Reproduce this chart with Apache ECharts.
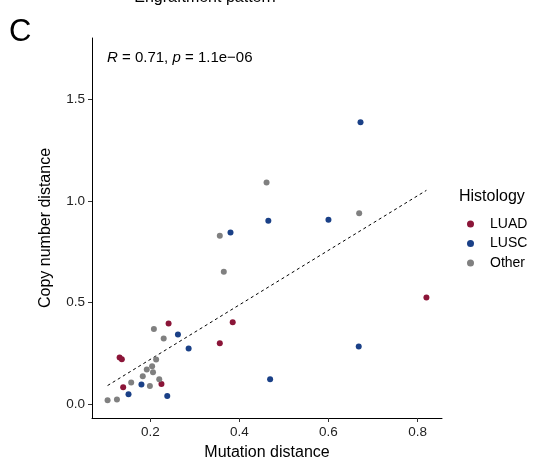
<!DOCTYPE html>
<html>
<head>
<meta charset="utf-8">
<script src="https://cdn.jsdelivr.net/npm/echarts@6/dist/echarts.min.js"></script>
<style>
  html, body { margin: 0; padding: 0; background: #fff; }
  #chart { width: 539px; height: 466px; }
</style>
</head>
<body>
<div id="chart"></div>
<script>
// Mutation distance vs copy number distance, grouped by histology
const luadX = [0.131, 0.136, 0.139, 0.225, 0.241, 0.356, 0.385, 0.820];
const luadY = [0.231, 0.223, 0.085, 0.101, 0.398, 0.301, 0.404, 0.526];

const luscX = [0.151, 0.180, 0.238, 0.262, 0.286, 0.380, 0.465, 0.469, 0.600, 0.668, 0.672];
const luscY = [0.051, 0.098, 0.042, 0.344, 0.275, 0.845, 0.902, 0.124, 0.907, 0.285, 1.386];

const otherX = [0.104, 0.125, 0.157, 0.183, 0.192, 0.199, 0.204, 0.206, 0.208, 0.213, 0.220, 0.230, 0.356, 0.365, 0.461, 0.669];
const otherY = [0.021, 0.025, 0.108, 0.139, 0.172, 0.091, 0.188, 0.159, 0.371, 0.221, 0.124, 0.324, 0.829, 0.652, 1.091, 0.939];

const xTicks = [0.2, 0.4, 0.6, 0.8];
const yTicks = [0.0, 0.5, 1.0, 1.5];
const groupNames = ['LUAD', 'LUSC', 'Other'];
const groupColors = ['#8B1538', '#1A4087', '#808080'];

const zip = (xs, ys) => xs.map((x, i) => [x, ys[i]]);
const groups = [zip(luadX, luadY), zip(luscX, luscY), zip(otherX, otherY)];

// Ordinary least squares fit over all points, spanning the observed x range
const allPts = groups.flat();
const n = allPts.length;
const mx = allPts.reduce((s, p) => s + p[0], 0) / n;
const my = allPts.reduce((s, p) => s + p[1], 0) / n;
let sxy = 0, sxx = 0;
allPts.forEach(p => { sxy += (p[0] - mx) * (p[1] - my); sxx += (p[0] - mx) ** 2; });
const slope = sxy / sxx;
const intercept = my - slope * mx;
const xMin = Math.min(...allPts.map(p => p[0]));
const xMax = Math.max(...allPts.map(p => p[0]));
const fitLine = [[xMin, intercept + slope * xMin], [xMax, intercept + slope * xMax]];

const FONT = 'Liberation Sans, Arial, sans-serif';

const chart = echarts.init(document.getElementById('chart'), null, { renderer: 'canvas' });

chart.setOption({
  animation: false,
  backgroundColor: '#fff',
  textStyle: { fontFamily: FONT },
  grid: { left: 92, right: 97, top: 38, bottom: 48, containLabel: false },
  xAxis: {
    type: 'value',
    min: 0.069, max: 0.855,
    name: 'Mutation distance',
    nameLocation: 'middle',
    nameGap: 27,
    nameTextStyle: { color: '#000', fontSize: 16, fontFamily: FONT },
    axisLine: { show: true, onZero: false, lineStyle: { color: '#000', width: 1 } },
    axisTick: { show: true, length: 4, lineStyle: { color: '#333' }, customValues: xTicks },
    axisLabel: { color: '#222', fontSize: 13.5, margin: 7, fontFamily: FONT,
      customValues: xTicks, formatter: v => v.toFixed(1) },
    splitLine: { show: false }
  },
  yAxis: {
    type: 'value',
    min: -0.066, max: 1.80,
    name: 'Copy number distance',
    nameLocation: 'middle',
    nameGap: 38,
    nameRotate: 90,
    nameTextStyle: { color: '#000', fontSize: 16, fontFamily: FONT },
    axisLine: { show: true, onZero: false, lineStyle: { color: '#000', width: 1 } },
    axisTick: { show: true, length: 4, lineStyle: { color: '#333' }, customValues: yTicks },
    axisLabel: { color: '#222', fontSize: 13.5, margin: 7, fontFamily: FONT,
      customValues: yTicks, formatter: v => v.toFixed(1) },
    splitLine: { show: false }
  },
  legend: {
    data: groupNames,
    orient: 'vertical',
    left: 462,
    top: 212,
    itemWidth: 7,
    itemHeight: 7,
    itemGap: 5.5,
    icon: 'circle',
    textStyle: { color: '#000', fontSize: 14, fontFamily: FONT, padding: [0, 0, 0, 11] },
    selectedMode: false
  },
  graphic: [
    { type: 'text', left: 459, top: 189,
      style: { text: 'Histology', fontSize: 16, fill: '#000', fontFamily: FONT } },
    { type: 'text', left: 9, top: 17,
      style: { text: 'C', fontSize: 31, fill: '#000', fontFamily: FONT } },
    { type: 'text', x: 205, y: -2,
      style: { text: 'Engraftment pattern', fontSize: 16, fill: '#000', fontFamily: FONT,
        align: 'center', verticalAlign: 'middle' } },
    { type: 'text', left: 107, top: 50,
      style: {
        text: '{i|R} = 0.71, {i|p} = 1.1e\u221206',
        fontSize: 15, fill: '#000', fontFamily: FONT,
        rich: { i: { fontStyle: 'italic', fontSize: 15, fontFamily: FONT } }
      } }
  ],
  series: [
    ...groups.map((pts, i) => ({
      name: groupNames[i],
      type: 'scatter',
      data: pts,
      symbol: 'circle',
      symbolSize: 6,
      itemStyle: { color: groupColors[i], opacity: 1 },
      z: 3
    })),
    {
      name: 'fit',
      type: 'line',
      data: fitLine,
      symbol: 'none',
      lineStyle: { color: '#000', width: 1, type: [3, 3] },
      z: 2,
      silent: true
    }
  ]
});
</script>
</body>
</html>
